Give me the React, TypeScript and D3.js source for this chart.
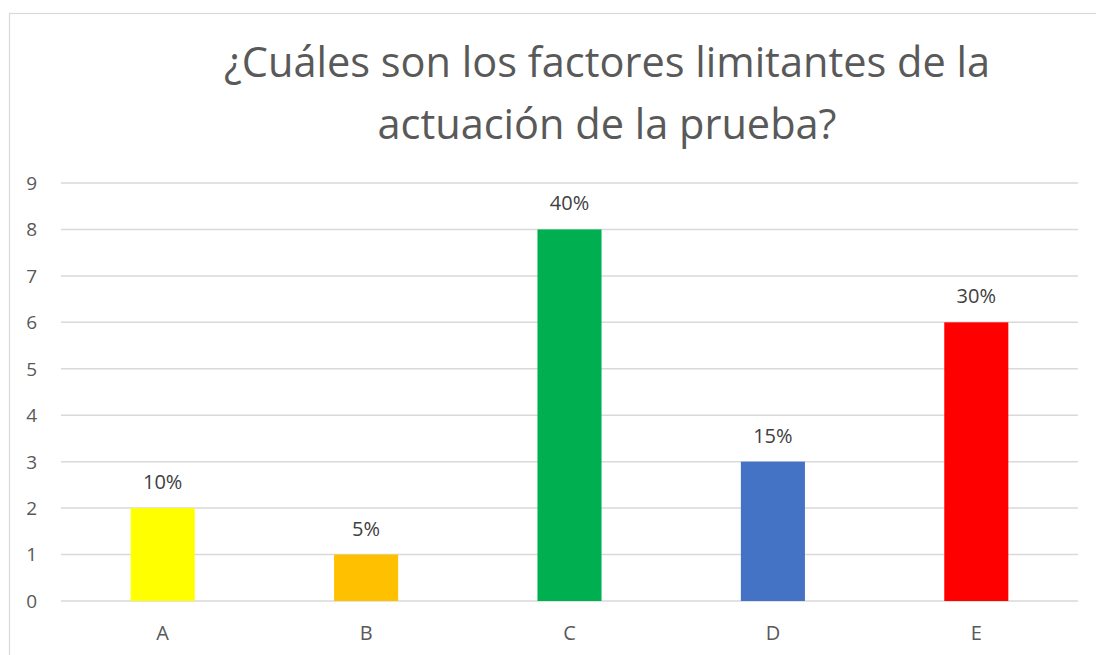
import { useEffect, useRef } from "react";
import * as d3 from "d3";

const categories = ["A", "B", "C", "D", "E"];
const counts = [2, 1, 8, 3, 6];
const percentLabels = ["10%", "5%", "40%", "15%", "30%"];
const barColors = ["#FFFF00", "#FFC000", "#00B050", "#4472C4", "#FF0000"];
const yTicks = [0, 1, 2, 3, 4, 5, 6, 7, 8, 9];
const titleLines = ["¿Cuáles son los factores limitantes de la", "actuación de la prueba?"];

export default function App() {
  const svgRef = useRef(null);

  useEffect(() => {
    const width = 1096;
    const height = 655;
    const margin = { top: 183, right: 18, bottom: 54, left: 61 };
    const font = "'Open Sans', 'Liberation Sans', sans-serif";

    const svg = d3.select(svgRef.current);
    svg.selectAll("*").remove();
    svg.attr("width", width).attr("height", height);

    svg.append("rect")
      .attr("width", width)
      .attr("height", height)
      .attr("fill", "#fff");

    // chart frame (runs off the right and bottom edges)
    svg.append("rect")
      .attr("x", 9.5)
      .attr("y", 13.5)
      .attr("width", width + 20)
      .attr("height", height + 20)
      .attr("fill", "none")
      .attr("stroke", "#d9d9d9")
      .attr("stroke-width", 1.2);

    const x = d3.scaleBand()
      .domain(categories)
      .range([margin.left, width - margin.right])
      .paddingInner(0.685)
      .paddingOuter(0.3425);

    const y = d3.scaleLinear()
      .domain([0, 9])
      .range([height - margin.bottom, margin.top]);

    // gridlines
    svg.append("g")
      .selectAll("line")
      .data(yTicks)
      .join("line")
      .attr("x1", margin.left)
      .attr("x2", width - margin.right)
      .attr("y1", d => y(d))
      .attr("y2", d => y(d))
      .attr("stroke", "#d9d9d9")
      .attr("stroke-width", 1.5);

    // y tick labels
    svg.append("g")
      .selectAll("text")
      .data(yTicks)
      .join("text")
      .attr("x", 37)
      .attr("y", d => y(d))
      .attr("dy", "0.36em")
      .attr("text-anchor", "end")
      .attr("font-family", font)
      .attr("font-size", 19)
      .attr("fill", "#595959")
      .text(d => d);

    // bars
    svg.append("g")
      .selectAll("rect")
      .data(counts)
      .join("rect")
      .attr("x", (d, i) => x(categories[i])!)
      .attr("y", d => y(d))
      .attr("width", x.bandwidth())
      .attr("height", d => y(0) - y(d))
      .attr("fill", (d, i) => barColors[i]);

    // data labels
    svg.append("g")
      .selectAll("text")
      .data(counts)
      .join("text")
      .attr("x", (d, i) => x(categories[i])! + x.bandwidth() / 2)
      .attr("y", d => y(d) - 19)
      .attr("text-anchor", "middle")
      .attr("font-family", font)
      .attr("font-size", 20)
      .attr("fill", "#404040")
      .text((d, i) => percentLabels[i]);

    // x labels
    svg.append("g")
      .selectAll("text")
      .data(categories)
      .join("text")
      .attr("x", d => x(d)! + x.bandwidth() / 2)
      .attr("y", 640)
      .attr("text-anchor", "middle")
      .attr("font-family", font)
      .attr("font-size", 20)
      .attr("fill", "#595959")
      .text(d => d);

    // title
    svg.append("g")
      .selectAll("text")
      .data(titleLines)
      .join("text")
      .attr("x", 607)
      .attr("y", (d, i) => 77 + i * 62)
      .attr("text-anchor", "middle")
      .attr("font-family", font)
      .attr("font-size", 41.5)
      .attr("fill", "#595959")
      .text(d => d);
  }, []);

  return (
    <div style={{ position: "absolute", left: 0, top: 0 }}>
      <svg ref={svgRef} style={{ display: "block" }}></svg>
    </div>
  );
}
